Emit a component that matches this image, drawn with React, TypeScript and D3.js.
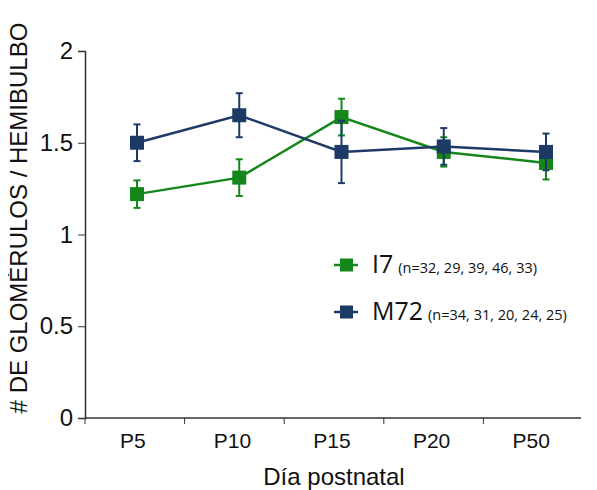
import React, { useEffect, useRef } from "react";
import * as d3 from "d3";

const categories = ["P5", "P10", "P15", "P20", "P50"];
const i7Values = [1.22, 1.31, 1.64, 1.45, 1.39];
const i7Errors = [0.075, 0.1, 0.1, 0.08, 0.09];
const m72Values = [1.5, 1.65, 1.45, 1.48, 1.45];
const m72Errors = [0.1, 0.12, 0.17, 0.1, 0.1];
const yTicks = [0, 0.5, 1, 1.5, 2];

const series = [
  { name: "I7", n: "(n=32, 29, 39, 46, 33)", values: i7Values, errors: i7Errors, color: "#14861a" },
  { name: "M72", n: "(n=34, 31, 20, 24, 25)", values: m72Values, errors: m72Errors, color: "#1d3a66" },
];

const App = () => {
  const svgRef = useRef<SVGSVGElement>(null);

  useEffect(() => {
    const svg = d3.select(svgRef.current);
    svg.selectAll("*").remove();

    const axisFont = "'Liberation Sans', Arial, sans-serif";
    const x = d3.scaleBand().domain(categories).range([85, 583]);
    const xp = d3.scalePoint().domain(categories).range([137, 546]);
    const y = d3.scaleLinear().domain([0, 2]).range([418, 51]);

    // y axis
    const yAxis = svg
      .append("g")
      .attr("transform", "translate(85,0)")
      .call(d3.axisLeft(y).tickValues(yTicks).tickFormat(d3.format("")).tickSizeOuter(0).tickSize(7).tickPadding(5));
    yAxis.select(".domain").attr("stroke", "#333").attr("stroke-width", 1.5);
    yAxis.selectAll(".tick line").attr("stroke", "#333");
    yAxis.selectAll("text").attr("font-family", axisFont).attr("font-size", 24).attr("fill", "#111");

    // x axis
    const xg = svg.append("g");
    xg.append("line")
      .attr("x1", 85)
      .attr("x2", 583)
      .attr("y1", y(0))
      .attr("y2", y(0))
      .attr("stroke", "#333")
      .attr("stroke-width", 1.5);
    xg.selectAll(".tk")
      .data(categories)
      .enter()
      .append("line")
      .attr("x1", (d) => x(d)!)
      .attr("x2", (d) => x(d)!)
      .attr("y1", y(0))
      .attr("y2", y(0) + 6)
      .attr("stroke", "#333");
    xg.selectAll(".lbl")
      .data(categories)
      .enter()
      .append("text")
      .attr("x", (d) => x(d)! + x.bandwidth() / 2 - 2)
      .attr("y", 448)
      .attr("text-anchor", "middle")
      .attr("font-family", axisFont)
      .attr("font-size", 21)
      .attr("fill", "#111")
      .text((d) => d);

    svg
      .append("text")
      .attr("x", 334)
      .attr("y", 485)
      .attr("text-anchor", "middle")
      .attr("font-family", axisFont)
      .attr("font-size", 24)
      .attr("fill", "#111")
      .text("Día postnatal");

    svg
      .append("text")
      .attr("transform", "translate(27,218) rotate(-90)")
      .attr("text-anchor", "middle")
      .attr("font-family", axisFont)
      .attr("font-size", 24)
      .attr("fill", "#111")
      .text("# DE GLOMÉRULOS / HEMIBULBO");

    const line = d3
      .line<number>()
      .x((_, i) => xp(categories[i])!)
      .y((d) => y(d));

    series.forEach((s) => {
      const g = svg.append("g");
      g.append("path")
        .attr("d", line(s.values))
        .attr("fill", "none")
        .attr("stroke", s.color)
        .attr("stroke-width", 2.5);
      s.values.forEach((v, i) => {
        const cx = xp(categories[i])!;
        const e = s.errors[i];
        g.append("line")
          .attr("x1", cx)
          .attr("x2", cx)
          .attr("y1", y(v + e))
          .attr("y2", y(v - e))
          .attr("stroke", s.color)
          .attr("stroke-width", 2);
        [v + e, v - e].forEach((t) =>
          g
            .append("line")
            .attr("x1", cx - 3.5)
            .attr("x2", cx + 3.5)
            .attr("y1", y(t))
            .attr("y2", y(t))
            .attr("stroke", s.color)
            .attr("stroke-width", 2)
        );
        g.append("rect")
          .attr("x", cx - 7)
          .attr("y", y(v) - 7)
          .attr("width", 14)
          .attr("height", 14)
          .attr("fill", s.color);
      });
    });

    // legend
    const legend = svg.append("g");
    series.forEach((s, i) => {
      const ly = 265 + i * 47;
      legend
        .append("line")
        .attr("x1", 334)
        .attr("x2", 358)
        .attr("y1", ly)
        .attr("y2", ly)
        .attr("stroke", s.color)
        .attr("stroke-width", 2.5);
      legend
        .append("rect")
        .attr("x", 340)
        .attr("y", ly - 6.5)
        .attr("width", 13)
        .attr("height", 13)
        .attr("fill", s.color);
      const t = legend
        .append("text")
        .attr("x", 372)
        .attr("y", ly + 8)
        .attr("font-family", "'Open Sans', sans-serif")
        .attr("fill", "#111");
      t.append("tspan").attr("font-size", 25).text(s.name);
      t.append("tspan").attr("font-size", 14.5).attr("dx", 5).text(s.n);
    });
  }, []);

  return <svg ref={svgRef} width={581} height={490} style={{ display: "block", margin: "-8px 0 0 -8px" }}></svg>;
};

export default App;
